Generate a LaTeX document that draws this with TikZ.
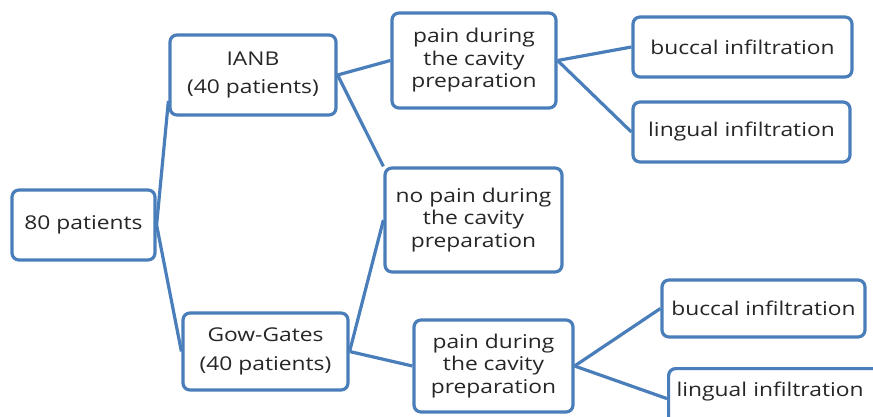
\documentclass[tikz,border=0pt]{standalone}
\usepackage{fontspec}
\newfontfamily\boxfont{Open Sans}[FakeStretch=1.2]
\usepackage{tikz}
\definecolor{boxblue}{RGB}{74,126,187}
\definecolor{boxtext}{RGB}{38,38,38}
\tikzset{
  box/.style={draw=boxblue, line width=3.2pt, rounded corners=7pt, fill=white, text=boxtext,
    align=center, inner sep=2pt, font=\boxfont\fontsize{19}{22.5}\selectfont},
  conn/.style={draw=boxblue, line width=3.2pt},
}

\begin{document}
\begin{tikzpicture}[x=1pt,y=-1pt]
\clip (0,0) rectangle (873,417);
\node[box, minimum width=143, minimum height=70] (root) at (83.5,225) {80 patients};
\node[box, minimum width=166, minimum height=80] (ianb) at (253,75) {IANB\\[5pt](40 patients)};
\node[box, minimum width=165, minimum height=77] (gg) at (265.5,351.5) {Gow-Gates\\[6pt](40 patients)};
\node[box, minimum width=164, minimum height=95] (pain1) at (474,60.5) {pain during\\the cavity\\preparation};
\node[box, minimum width=177, minimum height=104] (nopain) at (473.5,220) {no pain during\\the cavity\\preparation};
\node[box, minimum width=159, minimum height=92] (pain2) at (493.5,366) {pain during\\the cavity\\preparation};
\node[box, minimum width=219, minimum height=60] (buc1) at (742.5,47) {buccal infiltration};
\node[box, minimum width=217, minimum height=60] (lin1) at (741.5,132) {lingual infiltration};
\node[box, minimum width=203, minimum height=57] (buc2) at (763.5,308.5) {buccal infiltration};
\node[box, anchor=north west, text width=212, align=left, inner xsep=8pt,
  minimum height=60, text depth=19pt] (lin2) at (667,367) {lingual infiltration};
% connectors
\draw[conn] (root.east) -- (ianb.197);
\draw[conn] (root.east) -- (gg.west);
\draw[conn] (ianb.east) -- (pain1.west);
\draw[conn] (ianb.east) -- (nopain.north west);
\draw[conn] (gg.east) -- (nopain.west);
\draw[conn] (gg.east) -- (pain2.west);
\draw[conn] (pain1.east) -- (buc1.west);
\draw[conn] (pain1.east) -- (lin1.west);
\draw[conn] (pain2.east) -- (buc2.west);
\draw[conn] (pain2.east) -- (lin2.west);
\end{tikzpicture}
\end{document}
